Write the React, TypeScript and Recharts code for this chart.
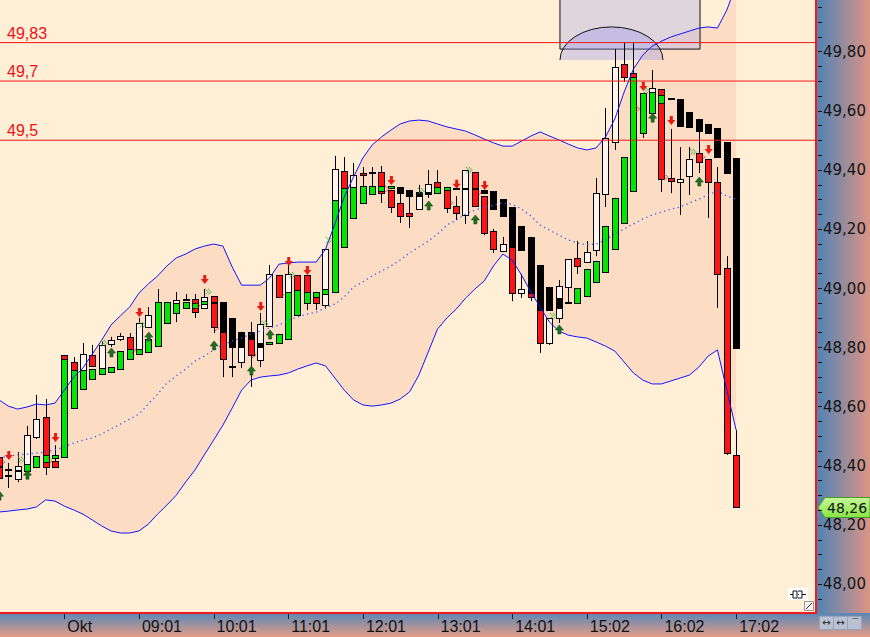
import React from 'react';
import {
  ComposedChart,
  Area,
  Bar,
  Line,
  Scatter,
  XAxis,
  YAxis,
  ReferenceLine,
  ReferenceArea,
} from 'recharts';

// bar index -> time axis
const timeTicks = [7, 15, 23, 31, 39, 47, 55, 63, 71, 79];
const timeLabels = ['Okt', '09:01', '10:01', '11:01', '12:01', '13:01', '14:01', '15:02', '16:02', '17:02'];

const priceLabels = [48.0, 48.2, 48.4, 48.6, 48.8, 49.0, 49.2, 49.4, 49.6, 49.8];
const priceTicks = [
  47.95, 48.0, 48.05, 48.1, 48.15, 48.2, 48.25, 48.3, 48.35, 48.4, 48.45, 48.5, 48.55, 48.6,
  48.65, 48.7, 48.75, 48.8, 48.85, 48.9, 48.95, 49.0, 49.05, 49.1, 49.15, 49.2, 49.25, 49.3,
  49.35, 49.4, 49.45, 49.5, 49.55, 49.6, 49.65, 49.7, 49.75, 49.8, 49.85, 49.9, 49.95,
];

const levels = [49.83, 49.7, 49.5];
const levelLabels = ['49,83', '49,7', '49,5'];
const lastPrice = 48.26;

// candle kinds: W = hollow up, K = black down, G = green up, R = red down, - = none
const mainKind = 'RKWWWRRGRWRWWWRWWGGWKRWRKKKKWWRWRRRWWRWRKRRKKKWRRKWRKKKKKKKKWWRWWWWRGGWRKKKKKKKK';
const overKind = 'KKKGGGGRGGGGGGGGG--GGGGKRKWRKGGGGGGGGGGGGGGRRWKGGRKKRRWRWRRWKKGGGGGGR-GGRWWRRRRR';

const mainOpen = [48.429, 48.385, 48.355, 48.405, 48.497, 48.564, 48.415, 48.429, 48.750, 48.723,
  48.774, 48.730, 48.811, 48.828, 48.835, 48.794, 48.868, 48.804, 48.882, 48.950,
  48.960, 48.963, 48.933, 48.973, 48.953, 48.899, 48.852, 48.852, 48.757, 48.872,
  49.044, 48.987, 49.044, 49.044, 48.987, 48.943, 49.298, 49.396, 49.342, 49.389,
  49.389, 49.393, 49.332, 49.342, 49.332, 49.325, 49.318, 49.359, 49.342, 49.335,
  49.247, 49.393, 49.332, 49.328, 49.301, 49.274, 49.210, 49.173, 49.078, 49.004,
  48.899, 49.004, 49.102, 49.088, 49.129, 49.318, 49.494, 49.758, 49.328, 49.524,
  49.663, 49.673, 49.639, 49.639, 49.595, 49.572, 49.555, 49.541, 49.494, 49.440];
const mainHigh = [48.453, 48.409, 48.446, 48.534, 48.639, 48.625, 48.469, 48.760, 48.767, 48.814,
  48.808, 48.821, 48.835, 48.848, 48.848, 48.899, 48.936, 48.997, 48.953, 48.987,
  48.980, 48.980, 48.997, 48.973, 48.953, 48.899, 48.852, 48.885, 48.916, 49.078,
  49.044, 49.078, 49.044, 49.044, 48.987, 49.132, 49.447, 49.443, 49.423, 49.409,
  49.409, 49.413, 49.332, 49.342, 49.332, 49.349, 49.399, 49.399, 49.342, 49.335,
  49.399, 49.393, 49.332, 49.328, 49.301, 49.274, 49.210, 49.173, 49.078, 49.004,
  49.027, 49.098, 49.159, 49.159, 49.372, 49.609, 49.808, 49.829, 49.829, 49.660,
  49.737, 49.673, 49.639, 49.639, 49.595, 49.572, 49.555, 49.541, 49.494, 49.440];
const mainLow = [48.334, 48.365, 48.344, 48.405, 48.490, 48.368, 48.395, 48.429, 48.723, 48.723,
  48.737, 48.730, 48.801, 48.821, 48.794, 48.794, 48.868, 48.804, 48.882, 48.950,
  48.960, 48.899, 48.933, 48.848, 48.852, 48.699, 48.801, 48.828, 48.733, 48.872,
  48.970, 48.987, 48.994, 48.987, 48.926, 48.933, 49.298, 49.338, 49.342, 49.345,
  49.345, 49.288, 49.254, 49.220, 49.203, 49.311, 49.305, 49.342, 49.254, 49.335,
  49.217, 49.278, 49.321, 49.267, 49.244, 48.956, 49.129, 48.956, 48.926, 48.926,
  48.882, 48.950, 49.048, 49.088, 49.108, 49.274, 49.467, 49.697, 49.328, 49.508,
  49.663, 49.325, 49.639, 49.548, 49.545, 49.457, 49.524, 49.443, 49.389, 48.798];
const mainClose = [48.358, 48.385, 48.399, 48.503, 48.557, 48.395, 48.395, 48.760, 48.723, 48.777,
  48.737, 48.808, 48.824, 48.838, 48.794, 48.882, 48.909, 48.953, 48.953, 48.960,
  48.960, 48.919, 48.970, 48.868, 48.852, 48.801, 48.801, 48.828, 48.879, 49.048,
  48.970, 49.048, 48.994, 48.987, 48.950, 49.132, 49.403, 49.338, 49.382, 49.382,
  49.389, 49.321, 49.274, 49.321, 49.311, 49.311, 49.352, 49.342, 49.271, 49.335,
  49.399, 49.278, 49.321, 49.267, 49.244, 48.983, 49.129, 48.970, 48.926, 48.926,
  49.007, 49.098, 49.075, 49.122, 49.321, 49.508, 49.748, 49.714, 49.727, 49.660,
  49.677, 49.369, 49.639, 49.548, 49.545, 49.531, 49.524, 49.443, 49.389, 48.798];

const overOpen = [48.395, 48.365, 48.382, 48.382, 48.395, 48.412, 48.426, 48.774, 48.595, 48.659,
  48.693, 48.710, 48.716, 48.726, 48.760, 48.777, 48.784, null, null, 48.916,
  48.933, 48.933, 48.946, 48.950, 48.852, 48.733, 48.750, 48.828, 48.814, 48.811,
  48.814, 48.828, 48.909, 48.950, 48.970, 48.980, 48.987, 49.139, 49.237, 49.288,
  49.318, 49.328, 49.338, 49.288, 49.254, 49.267, 49.321, 49.321, 49.332, 49.278,
  49.335, 49.335, 49.311, 49.193, 49.125, 49.139, 48.983, 48.983, 48.926, 48.814,
  48.967, 48.950, 48.950, 48.973, 49.021, 49.054, 49.132, 49.220, 49.727, null,
  49.592, 49.626, 49.372, 49.359, 49.379, 49.457, 49.436, 49.359, 49.068, 48.436];
const overHigh = [48.395, 48.365, 48.382, 48.405, 48.432, 48.436, 48.436, 48.774, 48.723, 48.723,
  48.726, 48.730, 48.733, 48.787, 48.794, 48.794, 48.828, null, null, 48.950,
  48.953, 48.950, 48.956, 48.950, 48.852, 48.733, 48.801, 48.828, 48.814, 48.818,
  48.845, 48.987, 48.994, 48.987, 48.987, 48.997, 49.298, 49.338, 49.342, 49.345,
  49.345, 49.345, 49.345, 49.288, 49.254, 49.311, 49.321, 49.342, 49.342, 49.311,
  49.335, 49.335, 49.311, 49.200, 49.173, 49.139, 49.048, 48.983, 48.926, 48.899,
  48.967, 48.950, 49.000, 49.065, 49.092, 49.210, 49.305, 49.443, 49.727, null,
  49.663, 49.653, 49.538, 49.477, 49.477, 49.457, 49.436, 49.409, 49.108, 48.520];
const overLow = [48.395, 48.324, 48.382, 48.382, 48.395, 48.412, 48.426, 48.760, 48.595, 48.659,
  48.693, 48.710, 48.716, 48.726, 48.760, 48.777, 48.784, null, null, 48.885,
  48.933, 48.933, 48.946, 48.950, 48.699, 48.733, 48.730, 48.666, 48.801, 48.811,
  48.814, 48.828, 48.909, 48.926, 48.970, 48.980, 48.987, 49.139, 49.237, 49.288,
  49.318, 49.328, 49.338, 49.244, 49.244, 49.267, 49.321, 49.321, 49.332, 49.230,
  49.335, 49.335, 49.179, 49.119, 49.125, 48.983, 48.967, 48.970, 48.781, 48.808,
  48.933, 48.950, 48.950, 48.973, 49.021, 49.054, 49.132, 49.220, 49.714, null,
  49.592, 49.626, 49.321, 49.247, 49.315, 49.389, 49.237, 48.933, 48.436, 48.260];
const overClose = [48.395, 48.365, 48.382, 48.405, 48.432, 48.436, 48.436, 48.760, 48.723, 48.723,
  48.726, 48.730, 48.733, 48.787, 48.794, 48.794, 48.828, null, null, 48.950,
  48.953, 48.950, 48.956, 48.950, 48.760, 48.733, 48.801, 48.774, 48.801, 48.818,
  48.845, 48.987, 48.994, 48.987, 48.987, 48.997, 49.298, 49.338, 49.342, 49.345,
  49.345, 49.345, 49.345, 49.244, 49.244, 49.311, 49.321, 49.342, 49.342, 49.254,
  49.335, 49.335, 49.186, 49.132, 49.149, 48.983, 48.997, 48.970, 48.814, 48.899,
  48.933, 48.950, 49.000, 49.065, 49.092, 49.210, 49.305, 49.443, 49.714, null,
  49.663, 49.653, 49.362, 49.369, 49.436, 49.426, 49.359, 49.048, 48.442, 48.260];

// bollinger bands
const upperBand = [48.622, 48.601, 48.591, 48.598, 48.608, 48.605, 48.611, 48.655, 48.699, 48.730,
  48.777, 48.824, 48.875, 48.906, 48.936, 48.983, 49.014, 49.041, 49.075, 49.102,
  49.115, 49.132, 49.142, 49.149, 49.142, 49.071, 49.010, 49.010, 49.010, 49.034,
  49.081, 49.085, 49.088, 49.088, 49.088, 49.132, 49.217, 49.308, 49.376, 49.440,
  49.484, 49.511, 49.534, 49.555, 49.565, 49.568, 49.565, 49.555, 49.545, 49.538,
  49.531, 49.518, 49.504, 49.491, 49.480, 49.480, 49.497, 49.514, 49.528, 49.514,
  49.501, 49.487, 49.474, 49.467, 49.474, 49.511, 49.572, 49.663, 49.741, 49.788,
  49.818, 49.835, 49.849, 49.859, 49.869, 49.879, 49.883, 49.879, 49.940, 50.025];
const lowerBand = [48.243, 48.246, 48.250, 48.253, 48.260, 48.284, 48.280, 48.263, 48.250, 48.236,
  48.216, 48.196, 48.179, 48.172, 48.172, 48.179, 48.202, 48.236, 48.267, 48.300,
  48.344, 48.385, 48.436, 48.486, 48.537, 48.595, 48.655, 48.689, 48.699, 48.703,
  48.706, 48.713, 48.726, 48.737, 48.747, 48.737, 48.696, 48.655, 48.622, 48.605,
  48.601, 48.605, 48.611, 48.625, 48.649, 48.706, 48.784, 48.862, 48.899, 48.929,
  48.966, 48.997, 49.024, 49.075, 49.115, 49.095, 49.044, 48.987, 48.936, 48.885,
  48.855, 48.841, 48.835, 48.831, 48.818, 48.804, 48.787, 48.750, 48.713, 48.689,
  48.676, 48.676, 48.686, 48.696, 48.706, 48.733, 48.770, 48.791, 48.655, 48.520];
const middleBand = [48.426, 48.432, 48.436, 48.439, 48.442, 48.446, 48.453, 48.463, 48.476, 48.486,
  48.493, 48.507, 48.524, 48.540, 48.557, 48.574, 48.608, 48.642, 48.679, 48.703,
  48.726, 48.753, 48.770, 48.791, 48.808, 48.821, 48.831, 48.845, 48.855, 48.865,
  48.875, 48.892, 48.902, 48.912, 48.919, 48.933, 48.946, 48.970, 49.004, 49.021,
  49.041, 49.058, 49.075, 49.095, 49.119, 49.139, 49.159, 49.183, 49.213, 49.230,
  49.250, 49.264, 49.274, 49.281, 49.288, 49.284, 49.267, 49.244, 49.213, 49.196,
  49.179, 49.163, 49.152, 49.146, 49.149, 49.163, 49.183, 49.200, 49.217, 49.234,
  49.247, 49.257, 49.267, 49.274, 49.288, 49.301, 49.315, 49.328, 49.311, 49.301];

// signal markers: [bar index, price]
const sellArrows = [[1, 48.432], [6, 48.493], [15, 48.916], [22, 49.027], [28, 48.936], [31, 49.088],
  [33, 49.058], [42, 49.362], [49, 49.349], [52, 49.345], [69, 49.68], [72, 49.565], [76, 49.467]];
const buyArrows = [[0, 48.3], [3, 48.371], [12, 48.784], [16, 48.838], [23, 48.808], [27, 48.723],
  [29, 48.845], [46, 49.281], [51, 49.234], [60, 48.862], [70, 49.578], [75, 49.362]];
const greenTicks = [[2.36, 48.419], [11.25, 48.814], [15.33, 48.875], [22.4, 48.987], [28.5, 48.879],
  [31.4, 49.044], [35.37, 49.163], [45.23, 49.328], [50.37, 49.399], [59.38, 48.906], [69.35, 49.667],
  [74.38, 49.46]];
const redTicks = [[0.43, 48.412], [5.47, 48.415], [14.47, 48.791], [21.33, 48.94], [23.37, 48.865],
  [27.33, 48.774], [30.33, 48.977], [41.6, 49.335], [48.45, 49.288], [51.45, 49.321], [68.5, 49.606],
  [71.5, 49.376], [75.45, 49.443]];

// drawing objects on the chart
const boxRange = { x1: 60.12, x2: 75.13, y1: 49.808, y2: 50.2 };
const arcRange = { x1: 60.12, x2: 71.16, y1: 49.771, y2: 49.883 };

const BODY: Record<string, string> = { W: '#fff4ee', K: '#000000', G: '#00e600', R: '#ff1414' };

const rows = mainOpen.map((_, i) => {
  const lo = Math.min(mainLow[i], overLow[i] ?? Infinity);
  const hi = Math.max(mainHigh[i], overHigh[i] ?? -Infinity);
  return {
    i,
    range: [lo, hi],
    band: [lowerBand[i], upperBand[i]],
    upper: upperBand[i],
    lower: lowerBand[i],
    middle: middleBand[i],
  };
});

const toPts = (arr: number[][]) => arr.map(([i, p]) => ({ i, p }));

function candle(key: string, cx: number, toY: (p: number) => number, o: any, h: any, l: any, c: any, kind: string) {
  if (o == null || kind === '-') return null;
  const yT = toY(Math.max(o, c));
  const yB = toY(Math.min(o, c));
  const parts = [
    <line key={key + 'w'} x1={cx + 0.5} x2={cx + 0.5} y1={toY(h)} y2={toY(l)} stroke="#000" strokeWidth={1} />,
  ];
  if (yB - yT < 1.5) {
    parts.push(<rect key={key + 'd'} x={cx - 3} y={Math.round((yT + yB) / 2) - 1} width={7} height={2} fill="#000" />);
  } else {
    const t = Math.round(yT);
    const b = Math.round(yB);
    parts.push(
      <rect key={key + 'b'} x={cx - 2.5} y={t + 0.5} width={6} height={Math.max(1, b - t)} fill={BODY[kind]} stroke="#000" strokeWidth={1} />
    );
  }
  return parts;
}

const CandleShape = (props: any) => {
  const { x, width, y, height, payload } = props;
  if (!payload) return null;
  const i = payload.i;
  const [lo, hi] = payload.range;
  const top = Math.min(y, y + height);
  const bottom = Math.max(y, y + height);
  const toY = (p: number) => top + ((hi - p) / (hi - lo)) * (bottom - top);
  const cx = Math.round(x + width / 2);
  return (
    <g>
      {candle('m' + i, cx, toY, mainOpen[i], mainHigh[i], mainLow[i], mainClose[i], mainKind[i])}
      {candle('o' + i, cx, toY, overOpen[i], overHigh[i], overLow[i], overClose[i], overKind[i])}
    </g>
  );
};

const DownArrow = ({ cx, cy }: any) => (
  <path d={`M${cx - 1},${cy - 5} H${cx + 2} V${cy - 1} H${cx + 4.5} L${cx + 0.5},${cy + 4} L${cx - 3.5},${cy - 1} H${cx - 1} Z`} fill="#e81a12" />
);
const UpArrow = ({ cx, cy }: any) => (
  <path d={`M${cx - 1},${cy + 5} H${cx + 2} V${cy + 1} H${cx + 4.5} L${cx + 0.5},${cy - 4} L${cx - 3.5},${cy + 1} H${cx - 1} Z`} fill="#217021" stroke="#0f4a0f" strokeWidth={0.6} />
);
const GreenTick = ({ cx, cy }: any) => (
  <g fill="none" stroke="#3ca83c" strokeWidth={1.2} strokeDasharray="1 1">
    <polyline points={`${cx - 3},${cy - 3} ${cx},${cy} ${cx - 3},${cy + 3}`} />
    <polyline points={`${cx},${cy - 3} ${cx + 3},${cy} ${cx},${cy + 3}`} />
  </g>
);
const RedTick = ({ cx, cy }: any) => (
  <polyline points={`${cx - 2},${cy - 3} ${cx + 1.5},${cy} ${cx - 2},${cy + 3}`} fill="none" stroke="#ff2020" strokeWidth={1.2} strokeDasharray="1 1" />
);

const ArcShape = (props: any) => {
  const { x, y, width, height } = props;
  const rx = width / 2;
  const base = y + height;
  return (
    <g>
      <path d={`M${x},${base} A${rx},${height} 0 0 1 ${x + width},${base} Z`} fill="rgba(150,150,235,0.35)" stroke="none" />
      <path d={`M${x},${base} A${rx},${height} 0 0 1 ${x + width},${base}`} fill="none" stroke="#111" strokeWidth={1} />
    </g>
  );
};

const LevelLabel = (props: any) => {
  const { viewBox, text } = props;
  if (!viewBox) return null;
  return (
    <text x={viewBox.x + 7} y={viewBox.y - 4} fill="#f01010" fontSize={16} fontFamily="Liberation Sans, Arial, sans-serif">
      {text}
    </text>
  );
};

const PriceTag = (props: any) => {
  const { viewBox } = props;
  if (!viewBox) return null;
  const x0 = viewBox.x + viewBox.width + 2;
  const cy = Math.round(viewBox.y) + 0.5;
  return (
    <g>
      <defs>
        <linearGradient id="tagFill" x1="0" y1="0" x2="0" y2="1">
          <stop offset="0" stopColor="#c9f79a" />
          <stop offset="1" stopColor="#86e544" />
        </linearGradient>
      </defs>
      <path d={`M${x0},${cy} L${x0 + 7},${cy - 10} H870 V${cy + 10} H${x0 + 7} Z`} fill="url(#tagFill)" stroke="#4c9a2c" strokeWidth={1} />
      <text x={x0 + 9} y={cy + 5.5} fontSize={14} fontFamily="DejaVu Sans, sans-serif" fill="#111">
        48,26
      </text>
    </g>
  );
};

const PriceTick = (props: any) => {
  const { y, payload } = props;
  const v = payload.value;
  const labelled = priceLabels.some((p) => Math.abs(p - v) < 1e-6);
  const yy = Math.round(y) + 0.5;
  return (
    <g>
      <line x1={818} x2={822} y1={yy} y2={yy} stroke="#111" strokeWidth={1} />
      {labelled && (
        <text x={823} y={y + 5.5} fontSize={15} fontFamily="DejaVu Sans, sans-serif" fill="#141414">
          {v.toFixed(2).replace('.', ',')}
        </text>
      )}
    </g>
  );
};

const TimeTick = (props: any) => {
  const { x, payload } = props;
  const idx = timeTicks.indexOf(payload.value);
  const xx = Math.round(x) + 0.5;
  return (
    <g>
      <line x1={xx} x2={xx} y1={614} y2={619} stroke="#222" strokeWidth={1} />
      <text x={x + 3} y={632} fontSize={16} fontFamily="Liberation Sans, Arial, sans-serif" fill="#111">
        {timeLabels[idx]}
      </text>
    </g>
  );
};

export default function App() {
  return (
    <div style={{ position: 'absolute', left: 0, top: 0, width: 870, height: 637, overflow: 'hidden', background: '#ffefd7' }}>
      <div style={{ position: 'absolute', left: 816, top: 0, width: 54, height: 613, background: 'linear-gradient(to right, #4f82b6, #dc9584)' }} />
      <div style={{ position: 'absolute', left: 0, top: 613, width: 870, height: 24, background: 'linear-gradient(to bottom, #5a87b6, #e59d86)' }} />
      <div style={{ position: 'absolute', left: 0, top: 0 }}>
        <ComposedChart width={870} height={637} data={rows} margin={{ top: 0, right: 0, bottom: 0, left: 0 }}>
          <XAxis
            type="number"
            dataKey="i"
            domain={[0.107, 87.56]}
            allowDataOverflow
            ticks={timeTicks}
            interval={0}
            height={25}
            tickLine={false}
            axisLine={false}
            tick={<TimeTick />}
          />
          <YAxis
            orientation="right"
            type="number"
            domain={[47.905, 49.974]}
            allowDataOverflow
            ticks={priceTicks}
            interval={0}
            width={54}
            tickLine={false}
            axisLine={false}
            tick={<PriceTick />}
          />
          <Area dataKey="band" fill="#fcdcc3" fillOpacity={1} stroke="none" dot={false} activeDot={false} isAnimationActive={false} />
          <ReferenceArea
            x1={boxRange.x1}
            x2={boxRange.x2}
            y1={boxRange.y1}
            y2={boxRange.y2}
            ifOverflow="hidden"
            fill="rgba(196,192,226,0.55)"
            fillOpacity={1}
            stroke="#111"
            strokeWidth={1}
          />
          <ReferenceArea
            x1={arcRange.x1}
            x2={arcRange.x2}
            y1={arcRange.y1}
            y2={arcRange.y2}
            ifOverflow="visible"
            shape={<ArcShape />}
          />
          <Line dataKey="middle" stroke="#3a5cff" strokeWidth={1.3} strokeDasharray="1.3 3.4" dot={false} activeDot={false} isAnimationActive={false} />
          <Bar dataKey="range" barSize={9} shape={<CandleShape />} activeBar={false} isAnimationActive={false} />
          <Line dataKey="upper" stroke="#1414ff" strokeWidth={1} dot={false} activeDot={false} isAnimationActive={false} />
          <Line dataKey="lower" stroke="#1414ff" strokeWidth={1} dot={false} activeDot={false} isAnimationActive={false} />
          {levels.map((lv, k) => (
            <ReferenceLine key={lv} y={lv} stroke="#f01818" strokeWidth={1} label={<LevelLabel text={levelLabels[k]} />} />
          ))}
          <Scatter data={toPts(sellArrows)} dataKey="p" shape={<DownArrow />} isAnimationActive={false} />
          <Scatter data={toPts(buyArrows)} dataKey="p" shape={<UpArrow />} isAnimationActive={false} />
          <Scatter data={toPts(greenTicks)} dataKey="p" shape={<GreenTick />} isAnimationActive={false} />
          <Scatter data={toPts(redTicks)} dataKey="p" shape={<RedTick />} isAnimationActive={false} />
          <ReferenceLine y={lastPrice} stroke="none" label={<PriceTag />} />
        </ComposedChart>
      </div>
      <div style={{ position: 'absolute', left: 815, top: 0, width: 2, height: 614, background: '#ee1c1c' }} />
      <div style={{ position: 'absolute', left: 0, top: 612, width: 817, height: 2, background: '#ee1c1c' }} />
      <svg style={{ position: 'absolute', left: 787, top: 586 }} width={30} height={27}>
        <rect x={1} y={2} width={20} height={12} fill="#ffffff" />
        <path d="M3,8.5 H6 M6,5 H10 V12 H6 Z M11,5 H15 V12 H11 M11,8.5 H12 M15,8.5 H19" stroke="#111" fill="none" strokeWidth={1} />
        <rect x={17.5} y={15.5} width={9} height={9} fill="#f4f4f4" stroke="#999" />
        <line x1={19} y1={23} x2={25} y2={17} stroke="#333" />
      </svg>
      {[819, 833, 847].map((lx, k) => (
        <div
          key={lx}
          style={{
            position: 'absolute', left: lx, top: 616, width: 13, height: 12, background: '#b8c2d2',
            border: '1px solid #98a4b8', fontSize: 10, lineHeight: '12px', textAlign: 'center',
            fontFamily: 'DejaVu Sans, sans-serif', color: '#222',
          }}
        >
          {k === 2 ? '⌒' : '↔'}
        </div>
      ))}
    </div>
  );
}
